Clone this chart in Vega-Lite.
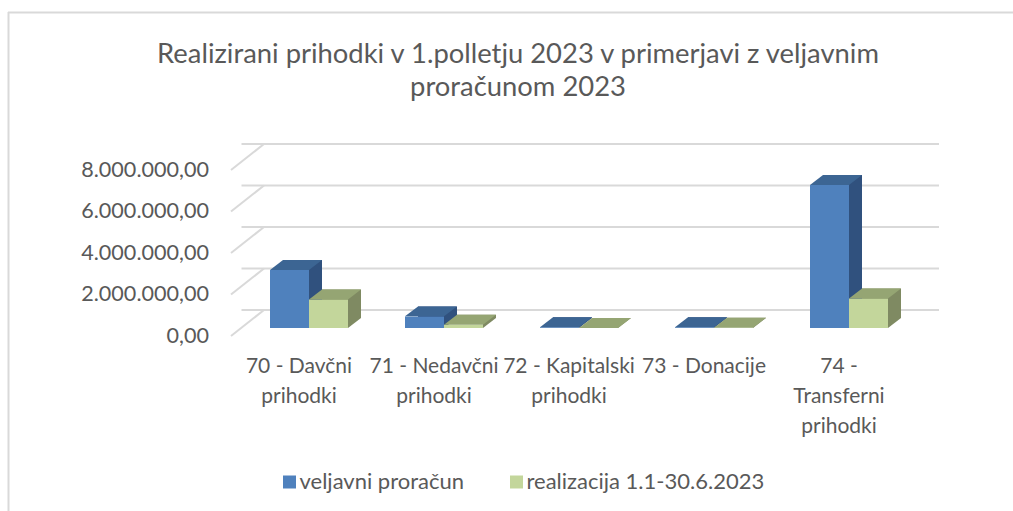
{
"$schema":"https://vega.github.io/schema/vega-lite/v6.json",
"width":675,"height":166,
"autosize":"none",
"padding":{"left":241.5,"top":162,"right":96.5,"bottom":183},
"background":"white",
"config":{"locale":{"number":{"decimal":",","thousands":".","grouping":[3],"currency":["","€"]}},"view":{"stroke":null},"font":"Lato"},
"title":{"text":["Realizirani prihodki v 1.polletju 2023 v primerjavi z veljavnim","proračunom 2023"],"font":"Lato","fontSize":27.4,"fontWeight":"normal","color":"#595959","lineHeight":33,"anchor":"middle","frame":"group","dx":-61,"offset":-90},
"datasets":{
"bars":[
{"kategorija":"70 - Davčni prihodki","serija":"veljavni proračun","znesek":2800000},
{"kategorija":"71 - Nedavčni prihodki","serija":"veljavni proračun","znesek":560000},
{"kategorija":"72 - Kapitalski prihodki","serija":"veljavni proračun","znesek":40000},
{"kategorija":"73 - Donacije","serija":"veljavni proračun","znesek":40000},
{"kategorija":"74 - Transferni prihodki","serija":"veljavni proračun","znesek":6890000},
{"kategorija":"70 - Davčni prihodki","serija":"realizacija 1.1-30.6.2023","znesek":1370000},
{"kategorija":"71 - Nedavčni prihodki","serija":"realizacija 1.1-30.6.2023","znesek":160000},
{"kategorija":"72 - Kapitalski prihodki","serija":"realizacija 1.1-30.6.2023","znesek":5000},
{"kategorija":"73 - Donacije","serija":"realizacija 1.1-30.6.2023","znesek":10000},
{"kategorija":"74 - Transferni prihodki","serija":"realizacija 1.1-30.6.2023","znesek":1420000}
],
"levels":[{"raven":0},{"raven":2000000},{"raven":4000000},{"raven":6000000},{"raven":8000000}]
},
"data":{"name":"bars"},
"encoding":{
"x":{"field":"kategorija","type":"nominal","sort":null,"title":null,
"scale":{"domain":["70 - Davčni prihodki","71 - Nedavčni prihodki","72 - Kapitalski prihodki","73 - Donacije","74 - Transferni prihodki"],"paddingInner":0.422,"paddingOuter":0.211},
"axis":{"domain":false,"ticks":false,"labelAngle":0,"labelFont":"Lato","labelFontSize":21,"labelColor":"#595959","labelPadding":27,"labelOffset":-10,"labelLineHeight":30,"labelOverlap":false,"labelBound":false,"labelLimit":0,"labelBaseline":"top",
"labelExpr":"{'70 - Davčni prihodki':['70 - Davčni','prihodki'],'71 - Nedavčni prihodki':['71 - Nedavčni','prihodki'],'72 - Kapitalski prihodki':['72 - Kapitalski','prihodki'],'73 - Donacije':['73 - Donacije'],'74 - Transferni prihodki':['74 -','Transferni','prihodki']}[datum.label]"}},
"y":{"field":"znesek","type":"quantitative","title":null,
"scale":{"domain":[0,8000000],"nice":false},
"axis":{"values":[0,2000000,4000000,6000000,8000000],"format":",.2f","domain":false,"ticks":false,"grid":false,"labelFont":"Lato","labelFontSize":21.6,"labelColor":"#595959","labelPadding":33,"labelOffset":8,"labelBound":false,"labelFlush":false,"labelOverlap":false,"labelLimit":0}}
},
"layer":[
{"data":{"values":[{"okvir":"zgoraj"}]},"mark":{"type":"rule","color":"#D9D9D9","strokeWidth":2},"encoding":{"x":{"value":-233.5},"x2":{"value":771.5},"y":{"value":-149.5}}},
{"data":{"values":[{"okvir":"levo"}]},"mark":{"type":"rule","color":"#D9D9D9","strokeWidth":2},"encoding":{"x":{"value":-233},"y":{"value":-150},"y2":{"value":349}}},
{"data":{"name":"levels"},"mark":{"type":"rule","color":"#D9D9D9","strokeWidth":2,"xOffset":22.5,"yOffset":-18},"encoding":{"x":null,"y":{"field":"raven","type":"quantitative"}}},
{"data":{"name":"levels"},"mark":{"type":"point","shape":"M-1,0.788L1,-0.788","filled":false,"size":1089,"stroke":"#D9D9D9","strokeWidth":2,"opacity":1,"yOffset":-5},"encoding":{"x":{"value":6},"y":{"field":"raven","type":"quantitative"}}},

{"transform":[{"filter":"datum.serija=='veljavni proračun'"}],"mark":{"type":"bar","width":39,"color":"#30517E","xOffset":-6.5,"yOffset":-10,"opacity":1}},
{"transform":[{"filter":"datum.serija=='veljavni proračun'"}],"mark":{"type":"point","shape":"M0,0L1,-0.77L0,-0.77Z","filled":true,"color":"#30517E","size":676,"opacity":1,"xOffset":0},"encoding":{"y":{"datum":0}}},
{"transform":[{"filter":"datum.serija=='veljavni proračun'"}],"mark":{"type":"bar","width":39,"xOffset":-19.5,"opacity":1},"encoding":{"color":{"field":"serija","type":"nominal","scale":{"domain":["veljavni proračun","realizacija 1.1-30.6.2023"],"range":["#4F81BD","#C3D69B"]},"legend":{"title":null,"orient":"none","legendX":37,"legendY":309,"direction":"horizontal","columns":2,"columnPadding":41,"symbolType":"square","symbolSize":169,"symbolStrokeWidth":0,"symbolOpacity":1,"labelFont":"Lato","labelFontSize":22,"labelColor":"#595959","labelOffset":-1,"labelLimit":0}}}},
{"transform":[{"filter":"datum.serija=='veljavni proračun'"}],"mark":{"type":"point","shape":"M-1,0.192L0.5,0.192L1,-0.192L-0.5,-0.192Z","filled":true,"color":"#3C6593","size":2704,"opacity":1,"xOffset":-13,"yOffset":-5}},

{"transform":[{"filter":"datum.serija!='veljavni proračun'"}],"mark":{"type":"bar","width":39,"color":"#7F8A62","xOffset":32.5,"yOffset":-10,"opacity":1}},
{"transform":[{"filter":"datum.serija!='veljavni proračun'"}],"mark":{"type":"point","shape":"M0,0L1,-0.77L0,-0.77Z","filled":true,"color":"#7F8A62","size":676,"opacity":1,"xOffset":39},"encoding":{"y":{"datum":0}}},
{"transform":[{"filter":"datum.serija!='veljavni proračun'"}],"mark":{"type":"bar","width":39,"xOffset":19.5,"opacity":1},"encoding":{"color":{"field":"serija","type":"nominal"}}},
{"transform":[{"filter":"datum.serija!='veljavni proračun'"}],"mark":{"type":"point","shape":"M-1,0.192L0.5,0.192L1,-0.192L-0.5,-0.192Z","filled":true,"color":"#95A573","size":2704,"opacity":1,"xOffset":26,"yOffset":-5}}
]
}
